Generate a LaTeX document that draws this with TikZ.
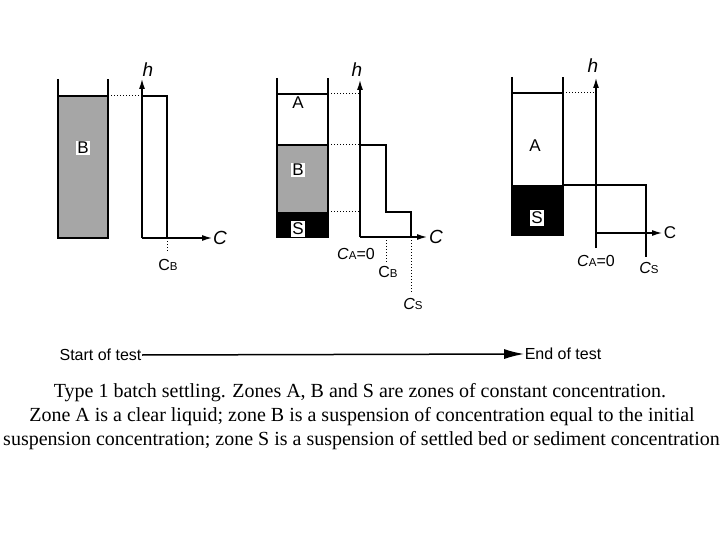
\documentclass[tikz,border=0pt]{standalone}
\usepackage{fontspec}
\setmainfont{Liberation Serif}
\setsansfont{Liberation Sans}
\usetikzlibrary{arrows.meta}
\begin{document}
\begin{tikzpicture}[x=1pt,y=-1pt, line width=1.2pt,
 ax/.style={-{Latex[length=10pt,width=6pt]}},
 dotln/.style={dotted, line width=1pt},
 lbl/.style={font=\sffamily\fontsize{17}{17}\selectfont, fill=white, inner sep=1.5pt},
 axl/.style={font=\sffamily\itshape\fontsize{19}{19}\selectfont, inner sep=0pt},
 cl/.style={font=\sffamily\fontsize{16}{16}\selectfont, inner sep=0pt},
 sub/.style={},
 sm/.style={font=\sffamily\fontsize{16}{16}\selectfont, inner sep=0pt},
 captxt/.style={font=\fontsize{20}{20}\selectfont, inner sep=0pt}]
\newcommand{\subl}[1]{{\fontsize{11.5}{11.5}\selectfont #1}}
\useasboundingbox (0,0) rectangle (720,540);
% panel 1
\fill[gray!70] (58,96) rectangle (108,238);
\draw (58,79) -- (58,238) -- (108,238) -- (108,79);
\draw (58,96) -- (108,96);
\node[lbl] (b1) at (83,148) {B};
\coordinate (o1) at (142,238);
\coordinate (h1t) at (142,79);
\coordinate (c1t) at (212,238);
\draw[dotln] (108,96) -- (142,96);
\draw[ax] (o1) -- (h1t);
\draw[ax] (o1) -- (c1t);
\node[axl] (h1) at (148,70) {h};
\node[axl] (c1) at (220,238) {C};
\draw (142,96) -- (167,96) -- (167,238);
\draw[dotln] (167,238) -- (167,252);
\node[cl] (cb1) at (168,265) {C\subl{B}};
% panel 2
\fill[gray!70] (277,145) rectangle (328,212);
\fill[black] (277,212) rectangle (328,237);
\draw (277,78) -- (277,237) -- (328,237) -- (328,78);
\draw (277,94) -- (328,94);
\draw (277,145) -- (328,145);
\node[cl,font=\sffamily\fontsize{17}{17}\selectfont,inner sep=1pt] (a2) at (298,103) {A};
\node[lbl] (b2) at (298,170) {B};
\node[lbl] (s2) at (298,229) {S};
\coordinate (o2) at (360,237);
\coordinate (h2t) at (360,80);
\coordinate (c2t) at (427,237);
\draw[dotln] (328,94) -- (360,94);
\draw[dotln] (328,145) -- (360,145);
\draw[dotln] (328,212) -- (360,212);
\draw[ax] (o2) -- (h2t);
\draw[ax] (o2) -- (c2t);
\node[axl] (h2) at (357,70) {h};
\node[axl] (c2) at (436,237) {C};
\draw (360,145) -- (386,145) -- (386,212) -- (411,212) -- (411,237);
\draw[dotln] (386,237) -- (386,262);
\draw[dotln] (411,237) -- (411,292);
\node[cl] (ca2) at (356,254) {\textit{C}\subl{A}=0};
\node[cl] (cb2) at (388,272) {C\subl{B}};
\node[cl] (cs2) at (413,304) {\textit{C}\subl{S}};
% panel 3
\fill[black] (512,185) rectangle (563,235);
\draw (512,77) -- (512,235) -- (563,235) -- (563,77);
\draw (512,93) -- (563,93);
\node[cl,font=\sffamily\fontsize{17}{17}\selectfont,inner sep=1pt] (a3) at (535,146) {A};
\node[lbl] (s3) at (537,218) {S};
\coordinate (o3) at (596,233);
\coordinate (h3t) at (596,78);
\coordinate (c3t) at (662,233);
\draw[dotln] (563,93) -- (596,93);
\draw[ax] (596,248) -- (h3t);
\draw[ax] (o3) -- (c3t);
\draw (563,185) -- (646,185) -- (646,257);
\node[axl] (h3) at (593,66) {h};
\node[cl,font=\sffamily\fontsize{17}{17}\selectfont] (c3) at (670,233) {C};
\node[cl] (ca3) at (596,261) {\textit{C}\subl{A}=0};
\node[cl] (cs3) at (649,268) {\textit{C}\subl{S}};
% time arrow
\node[sm] (st) at (100.5,355) {Start of test};
\node[sm] (et) at (563,354) {End of test};
\draw[line width=1.5pt,-{Latex[length=20pt,width=10pt]}] (st.east) -- (et.west);
% caption
\node[captxt] (l1) at (360,393) {Type 1 batch settling. Zones A, B and S are zones of constant concentration.};
\node[captxt] (l2) at (362,417) {Zone A is a clear liquid; zone B is a suspension of concentration equal to the initial};
\node[captxt] (l3) at (361.5,441) {suspension concentration; zone S is a suspension of settled bed or sediment concentration};
\end{tikzpicture}
\end{document}
